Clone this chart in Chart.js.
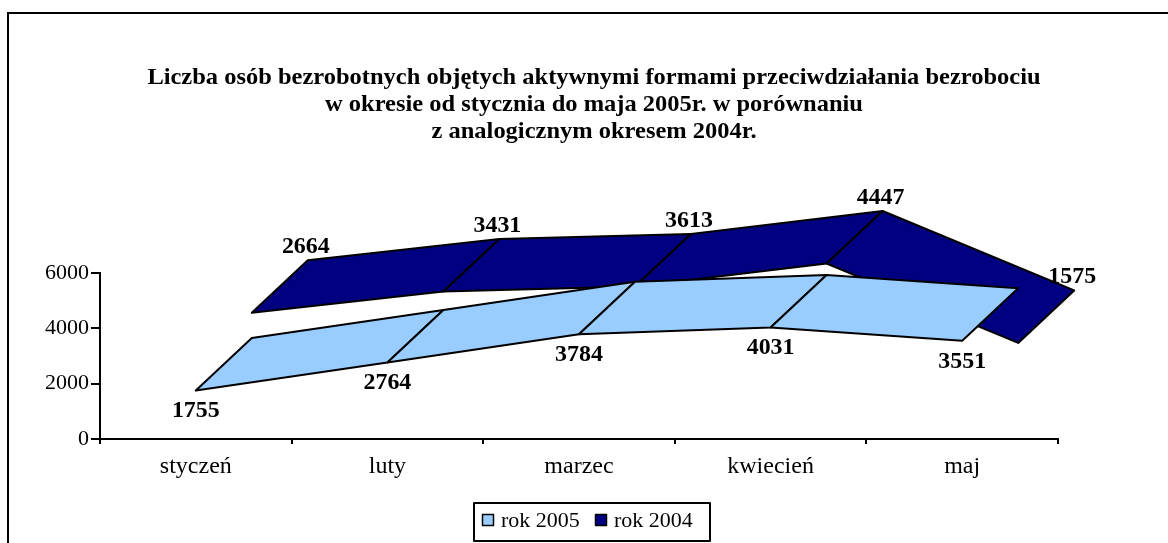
<!DOCTYPE html>
<html><head><meta charset="utf-8">
<script src="https://cdn.jsdelivr.net/npm/chart.js@4.4.1/dist/chart.umd.min.js"></script>
<style>html,body{margin:0;padding:0;background:#fff;}#wrap{width:1168px;height:543px;position:relative;}</style>
</head><body><div id="wrap"><canvas id="c" width="1168" height="543"></canvas></div>
<script>
const categories = ['styczeń', 'luty', 'marzec', 'kwiecień', 'maj'];
const rok2005 = [1755, 2764, 3784, 4031, 3551];
const rok2004 = [2664, 3431, 3613, 4447, 1575];
const yTicks = [0, 2000, 4000, 6000];
const seriesNames = ['rok 2005', 'rok 2004'];
const seriesColors = ['#99CCFF', '#000080'];
const titleLines = [
  'Liczba osób bezrobotnych objętych aktywnymi formami przeciwdziałania bezrobociu',
  'w okresie od stycznia do maja 2005r. w porównaniu',
  'z analogicznym okresem 2004r.'
];

const DEPTH_DX = 56, DEPTH_DY = -52.5;
const SERIF = '"Liberation Serif", "Times New Roman", serif';

function stretchedText(ctx, text, x, y, sx) {
  ctx.save();
  ctx.translate(x, y);
  ctx.scale(sx, 1);
  ctx.fillText(text, 0, 0);
  ctx.restore();
}

const ribbonPlugin = {
  id: 'ribbon',
  beforeDraw(chart) {
    const ctx = chart.ctx;
    ctx.save();
    ctx.fillStyle = '#fff';
    ctx.fillRect(0, 0, chart.width, chart.height);
    ctx.strokeStyle = '#000';
    ctx.lineWidth = 2;
    ctx.strokeRect(8, 13, 1300, 700);
    ctx.fillStyle = '#000';
    ctx.textAlign = 'center';
    ctx.textBaseline = 'middle';
    ctx.font = 'bold 24px ' + SERIF;
    const ty = [78, 105, 132];
    titleLines.forEach((t, i) => stretchedText(ctx, t, 594, ty[i], 1.02));
    ctx.restore();
  },
  afterDatasetsDraw(chart) {
    const ctx = chart.ctx;
    const xs = chart.scales.x, ys = chart.scales.y;
    const geom = chart.data.datasets.map((ds, d) => {
      const front = ds.data.map((v, i) => ({
        x: xs.getPixelForValue(i) + d * DEPTH_DX,
        y: ys.getPixelForValue(v) + d * DEPTH_DY
      }));
      const back = front.map(p => ({x: p.x + DEPTH_DX, y: p.y + DEPTH_DY}));
      return {front, back, color: ds.backgroundColor};
    });
    ctx.save();
    ctx.lineJoin = 'round';
    for (let d = geom.length - 1; d >= 0; d--) {
      const g = geom[d];
      for (let i = 0; i < g.front.length - 1; i++) {
        ctx.beginPath();
        ctx.moveTo(g.front[i].x, g.front[i].y);
        ctx.lineTo(g.front[i + 1].x, g.front[i + 1].y);
        ctx.lineTo(g.back[i + 1].x, g.back[i + 1].y);
        ctx.lineTo(g.back[i].x, g.back[i].y);
        ctx.closePath();
        ctx.fillStyle = g.color;
        ctx.fill();
        ctx.strokeStyle = '#000';
        ctx.lineWidth = 2;
        ctx.stroke();
      }
    }
    // data labels
    ctx.fillStyle = '#000';
    ctx.textAlign = 'center';
    ctx.textBaseline = 'middle';
    ctx.font = 'bold 23px ' + SERIF;
    chart.data.datasets.forEach((ds, d) => {
      const g = geom[d];
      ds.data.forEach((v, i) => {
        if (d === 0) {
          stretchedText(ctx, String(v), g.front[i].x, g.front[i].y + 21, 1.04);
        } else {
          stretchedText(ctx, String(v), g.back[i].x - 2, g.back[i].y - 13, 1.04);
        }
      });
    });
    // legend
    ctx.lineWidth = 2;
    ctx.strokeStyle = '#000';
    ctx.strokeRect(474, 503, 236, 38);
    ctx.font = '20px ' + SERIF;
    ctx.textAlign = 'left';
    const lx = [482, 595];
    seriesNames.forEach((n, i) => {
      ctx.fillStyle = seriesColors[i];
      ctx.fillRect(lx[i], 514, 12, 12);
      ctx.lineWidth = 1.5;
      ctx.strokeRect(lx[i] + 0.5, 514.5, 11, 11);
      ctx.fillStyle = '#000';
      stretchedText(ctx, n, lx[i] + 19, 522, 1.1);
    });
    ctx.restore();
  }
};

new Chart(document.getElementById('c'), {
  type: 'line',
  data: {
    labels: categories,
    datasets: [
      {label: seriesNames[0], data: rok2005, backgroundColor: seriesColors[0], borderColor: 'rgba(0,0,0,0)', pointRadius: 0, showLine: false},
      {label: seriesNames[1], data: rok2004, backgroundColor: seriesColors[1], borderColor: 'rgba(0,0,0,0)', pointRadius: 0, showLine: false}
    ]
  },
  options: {
    responsive: false,
    animation: false,
    devicePixelRatio: 1,
    layout: {padding: {left: 0, right: 110, top: 273, bottom: 54}},
    plugins: {legend: {display: false}, title: {display: false}, tooltip: {enabled: false}},
    scales: {
      x: {
        type: 'category',
        offset: true,
        afterFit(s) { s.height = 50; },
        grid: {offset: true, drawOnChartArea: false, drawTicks: true, tickLength: 5, color: '#000', lineWidth: 2},
        border: {display: true, color: '#000', width: 2},
        ticks: {color: '#000', font: {family: SERIF, size: 24}, padding: 8, maxRotation: 0}
      },
      y: {
        min: 0, max: 6000,
        afterFit(s) { s.width = 100; },
        afterBuildTicks(s) { s.ticks = yTicks.map(v => ({value: v})); },
        grid: {drawOnChartArea: false, drawTicks: true, tickLength: 9, color: '#000', lineWidth: 2},
        border: {display: true, color: '#000', width: 2},
        ticks: {color: '#000', font: {family: SERIF, size: 22}, padding: 2, callback: v => String(v)}
      }
    }
  },
  plugins: [ribbonPlugin]
});
</script></body></html>
